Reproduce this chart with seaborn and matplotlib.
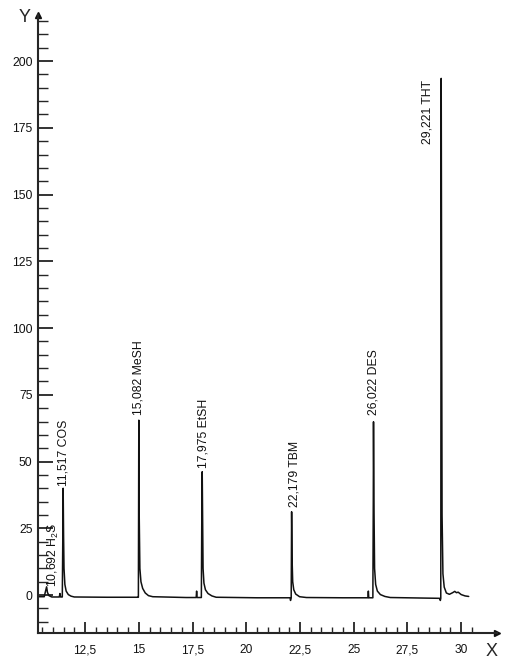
## Recreates a scanned gas chromatogram of sulphur compounds (retention time vs detector signal).
import pandas as pd
import seaborn as sns
import matplotlib.pyplot as plt
from matplotlib.ticker import FixedLocator, FixedFormatter, MultipleLocator

# trace: retention time (min) and signal
trace_time = [
    10.33, 10.60, 10.66, 10.71, 10.75, 10.82, 10.95,
    11.30, 11.33, 11.36,
    11.44, 11.46, 11.48, 11.50, 11.52, 11.56, 11.62, 11.72, 11.85, 12.00,
    13.50, 14.95,
    14.98, 14.99, 15.00, 15.02, 15.05, 15.10, 15.18, 15.30, 15.45, 15.65,
    17.20, 17.67, 17.69, 17.71,
    17.91, 17.93, 17.95, 17.97, 17.99, 18.03, 18.10, 18.22, 18.40, 18.60,
    20.50, 22.04, 22.06, 22.08,
    22.09, 22.10, 22.11, 22.13, 22.16, 22.21, 22.30, 22.48, 22.80,
    24.50, 25.66, 25.68, 25.70,
    25.89, 25.91, 25.92, 25.94, 25.97, 26.02, 26.10, 26.24, 26.45, 26.70,
    28.20, 29.00, 29.03,
    29.05, 29.06, 29.07, 29.09, 29.11, 29.15, 29.21, 29.31, 29.45,
    29.60, 29.70, 29.78, 29.86, 30.00, 30.18, 30.35,
]
trace_signal = [
    -0.6, -0.6, 1.5, 3.1, 1.0, -0.2, -0.7,
    -0.7, 0.6, -0.7,
    -0.7, 18.0, 40.0, 22.0, 10.0, 4.0, 1.5, 0.2, -0.4, -0.7,
    -0.8, -0.8,
    -0.8, 30.0, 65.5, 29.0, 10.0, 5.0, 2.5, 0.8, -0.2, -0.6,
    -0.9, -0.9, 1.5, -0.9,
    -0.9, 28.0, 46.2, 28.0, 10.0, 4.5, 2.0, 0.6, -0.3, -0.8,
    -1.0, -1.0, -2.0, -1.0,
    -1.0, 14.0, 31.2, 14.0, 5.0, 2.0, 0.4, -0.6, -0.9,
    -1.0, -1.0, 1.5, -1.0,
    -1.0, 35.0, 64.9, 35.0, 10.0, 4.0, 1.5, 0.2, -0.5, -0.9,
    -1.1, -1.2, -2.0,
    -1.2, 100.0, 193.5, 110.0, 30.0, 8.0, 3.0, 0.8, 0.3,
    0.9, 1.4, 0.9, 1.1, 0.2, -0.3, -0.5,
]

peak_labels = ["10,692 H$_2$S", "11,517 COS", "15,082 MeSH", "17,975 EtSH",
               "22,179 TBM", "26,022 DES", "29,221 THT"]
label_time = [11.05, 11.50, 14.98, 18.00, 22.24, 25.92, 28.44]
label_signal = [3.0, 41.0, 67.5, 47.5, 33.0, 67.5, 169.0]

x_ticks = [12.5, 15, 17.5, 20, 22.5, 25, 27.5, 30]
x_tick_labels = ["12,5", "15", "17,5", "20", "22,5", "25", "27,5", "30"]
y_ticks = [0, 25, 50, 75, 100, 125, 150, 175, 200]
y_tick_labels = ["0", "25", "50", "75", "100", "125", "150", "175", "200"]

df = pd.DataFrame({"time": trace_time, "signal": trace_signal})

sns.set_style("ticks")
plt.rcParams['font.family'] = ['Liberation Sans', 'DejaVu Sans']
plt.rcParams['mathtext.fontset'] = 'custom'
plt.rcParams['mathtext.rm'] = 'Liberation Sans'

fig = plt.figure(figsize=(5.15, 6.63), dpi=100)
ax = fig.add_axes([0.0738, 0.0452, 0.891, 0.932])

sns.lineplot(data=df, x="time", y="signal", ax=ax, color="#111111",
             linewidth=1.1, estimator=None, sort=False)

for lab, lx, ly in zip(peak_labels, label_time, label_signal):
    ax.text(lx, ly, lab, rotation=90, ha="center", va="bottom",
            fontsize=8.8, color="#111111")

ax.set_xlim(10.31, 31.66)
ax.set_ylim(-14.2, 217.2)

ax.spines['top'].set_visible(False)
ax.spines['right'].set_visible(False)
ax.spines['left'].set_linewidth(1.5)
ax.spines['bottom'].set_linewidth(1.5)

ax.xaxis.set_major_locator(FixedLocator(x_ticks))
ax.xaxis.set_major_formatter(FixedFormatter(x_tick_labels))
ax.xaxis.set_minor_locator(FixedLocator([10.5 + 0.5 * i for i in range(41)]))
ax.yaxis.set_major_locator(FixedLocator(y_ticks))
ax.yaxis.set_major_formatter(FixedFormatter(y_tick_labels))
ax.yaxis.set_minor_locator(MultipleLocator(5))

ax.tick_params(axis='x', which='major', direction='in', length=8, width=1.2,
               pad=8, labelsize=8.6, colors="#111111")
ax.tick_params(axis='x', which='minor', direction='in', length=4.5, width=1.0)
ax.tick_params(axis='y', which='major', direction='in', length=11, width=1.2,
               pad=4, labelsize=8.8, colors="#111111")
ax.tick_params(axis='y', which='minor', direction='in', length=7, width=1.0)
ax.set_xlabel("")
ax.set_ylabel("")

# arrow heads at the axis ends
ax.plot([1], [0], marker=">", color="#111111", markersize=5,
        transform=ax.transAxes, clip_on=False)
ax.plot([0], [1], marker="^", color="#111111", markersize=4,
        transform=ax.transAxes, clip_on=False)

fig.text(25 / 515, 1 - 17 / 663, "Y", fontsize=13, ha="center", va="center")
fig.text(492 / 515, 1 - 651 / 663, "X", fontsize=13, ha="center", va="center")

plt.savefig("out.png", dpi=100)
